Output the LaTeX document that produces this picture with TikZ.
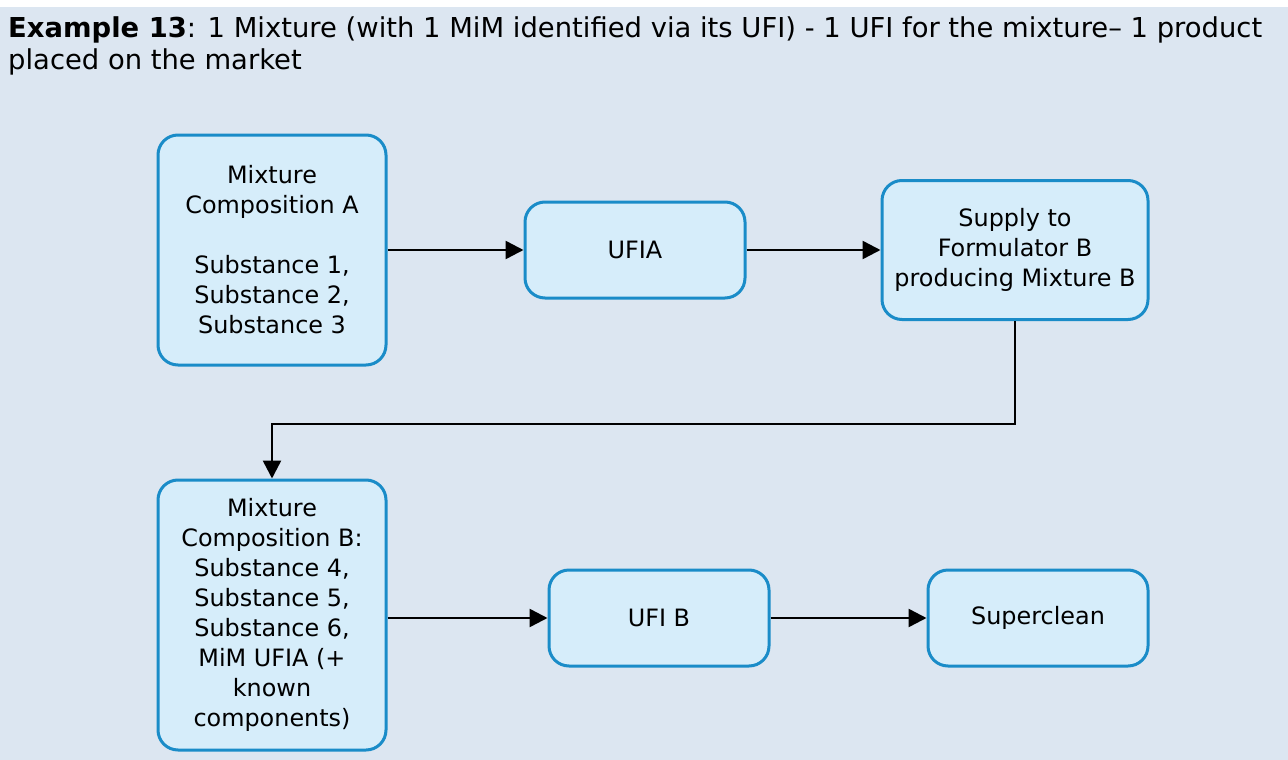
\documentclass[tikz,border=0pt]{standalone}
\usepackage{fontspec}
\setmainfont{DejaVu Sans}
\usetikzlibrary{arrows.meta,calc}
\definecolor{pagebg}{HTML}{DCE6F1}
\definecolor{boxfill}{HTML}{D6EDFA}
\definecolor{boxline}{HTML}{1A8CC8}
\tikzset{
  flowbox/.style={draw=boxline, fill=boxfill, line width=3pt, rounded corners=20pt,
    align=center, inner sep=0pt, font=\fontsize{23.9}{30}\selectfont},
  flowarrow/.style={draw=black, line width=2.5pt, -{Triangle[length=18pt,width=18pt]}},
  titletext/.style={anchor=base west, inner sep=0pt, font=\fontsize{27.4}{32}\selectfont}
}
\begin{document}
\begin{tikzpicture}[x=1pt,y=-1pt]
  \useasboundingbox (0,0) rectangle (1288,760);
  \fill[white] (0,0) rectangle (1288,760);
  \fill[pagebg] (0,7) rectangle (1288,760);

  \node[titletext] (t1) at (8,38) {\textbf{Example 13}: 1 Mixture (with 1 MiM identified via its UFI) - 1 UFI for the mixture– 1 product};
  \node[titletext] (t2) at (8,70) {placed on the market};

  \node[flowbox, minimum width=228pt, minimum height=230pt] (mixA) at (272,250)
    {Mixture\\Composition A\\[30pt]Substance 1,\\Substance 2,\\Substance 3};
  \node[flowbox, minimum width=220pt, minimum height=96pt] (ufia) at (635,250) {UFIA};
  \node[flowbox, minimum width=266pt, minimum height=139pt] (supply) at (1015,250)
    {Supply to\\Formulator B\\producing Mixture B};

  \node[flowbox, minimum width=228pt, minimum height=270pt] (mixB) at (272,615)
    {Mixture\\Composition B:\\Substance 4,\\Substance 5,\\Substance 6,\\MiM UFIA (+\\known\\components)};
  \node[flowbox, minimum width=220pt, minimum height=96pt] (ufib) at (659,618) {UFI B};
  \node[flowbox, minimum width=220pt, minimum height=96pt] (clean) at (1038,618) {Superclean};

  \coordinate (turn) at (272,424);

  \draw[flowarrow] (mixA.east) -- (ufia.west);
  \draw[flowarrow] (ufia.east) -- (supply.west);
  \draw[flowarrow] (supply.south) |- (turn) -- (mixB.north);
  \draw[flowarrow] (mixB.east |- ufib.west) -- (ufib.west);
  \draw[flowarrow] (ufib.east) -- (clean.west);
\end{tikzpicture}
\end{document}
